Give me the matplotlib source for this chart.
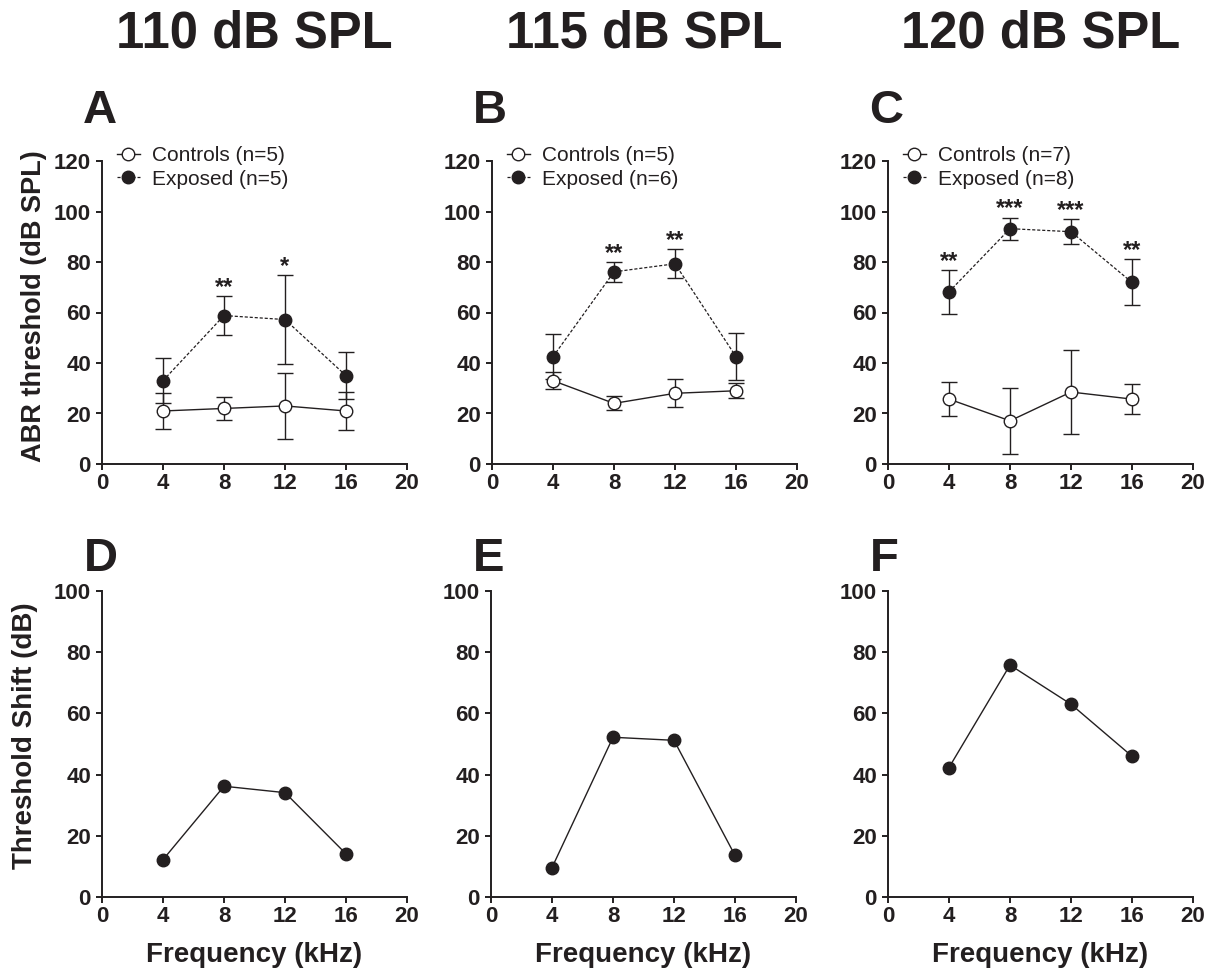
import matplotlib
matplotlib.use("Agg")
import matplotlib.pyplot as plt

plt.rcParams['font.family'] = ['Liberation Sans', 'DejaVu Sans']

K = '#231f20'

freqs = [4, 8, 12, 16]
titles = ['110 dB SPL', '115 dB SPL', '120 dB SPL']
top_letters = ['A', 'B', 'C']
bot_letters = ['D', 'E', 'F']

ctrl_labels = ['Controls (n=5)', 'Controls (n=5)', 'Controls (n=7)']
exp_labels = ['Exposed (n=5)', 'Exposed (n=6)', 'Exposed (n=8)']

ctrl_110 = [21, 22, 23, 21]
ctrl_110_err = [7.3, 4.4, 13.1, 7.4]
exp_110 = [33, 58.8, 57.2, 35]
exp_110_err = [9.0, 7.6, 17.5, 9.3]
stars_110 = ['', '**', '*', '']

ctrl_115 = [33, 24, 28, 29]
ctrl_115_err = [3.4, 2.8, 5.5, 2.9]
exp_115 = [42.5, 76.1, 79.3, 42.5]
exp_115_err = [9.0, 4.0, 5.8, 9.3]
stars_115 = ['', '**', '**', '']

ctrl_120 = [25.7, 17.1, 28.5, 25.7]
ctrl_120_err = [6.7, 13.0, 16.7, 5.8]
exp_120 = [68.2, 93.2, 92.0, 71.9]
exp_120_err = [8.7, 4.4, 4.9, 9.1]
stars_120 = ['**', '***', '***', '**']

shift_110 = [12.2, 36.2, 34.1, 14.1]
shift_115 = [9.6, 52.2, 51.2, 13.6]
shift_120 = [42.3, 75.8, 63.0, 46.0]

ctrl_all = [ctrl_110, ctrl_115, ctrl_120]
ctrl_err_all = [ctrl_110_err, ctrl_115_err, ctrl_120_err]
exp_all = [exp_110, exp_115, exp_120]
exp_err_all = [exp_110_err, exp_115_err, exp_120_err]
stars_all = [stars_110, stars_115, stars_120]
shift_all = [shift_110, shift_115, shift_120]

W, H = 1213, 974
fig = plt.figure(figsize=(W / 100, H / 100), dpi=100)

top_x = [102, 492, 888]
bot_x = [102, 491, 888]
axw = 305


def frac_rect(x0, x1, ytop, ybot):
    return [x0 / W, 1 - ybot / H, (x1 - x0) / W, (ybot - ytop) / H]


def style_axes(ax, ymax, ystep):
    for s in ['top', 'right']:
        ax.spines[s].set_visible(False)
    for s in ['left', 'bottom']:
        ax.spines[s].set_linewidth(1.4)
        ax.spines[s].set_color(K)
    ax.set_xlim(0, 20)
    ax.set_ylim(0, ymax)
    ax.set_xticks([0, 4, 8, 12, 16, 20])
    ax.set_yticks(list(range(0, ymax + 1, ystep)))
    ax.tick_params(axis='both', direction='out', length=4, width=1.4, color=K,
                   labelsize=16, labelcolor=K)
    ax.tick_params(axis='x', pad=2.5)
    ax.tick_params(axis='y', pad=4)
    for lab in ax.get_xticklabels() + ax.get_yticklabels():
        lab.set_fontweight('bold')


ms = 9
for i in range(3):
    ax = fig.add_axes(frac_rect(top_x[i], top_x[i] + axw, 161, 464))
    style_axes(ax, 120, 20)
    ax.errorbar(freqs, exp_all[i], yerr=exp_err_all[i], fmt='none', ecolor=K,
                elinewidth=1.0, capsize=6, capthick=1.0, zorder=2, clip_on=False)
    ax.errorbar(freqs, ctrl_all[i], yerr=ctrl_err_all[i], fmt='none', ecolor=K,
                elinewidth=1.0, capsize=6, capthick=1.0, zorder=2, clip_on=False)
    ax.plot(freqs, ctrl_all[i], '-', color=K, lw=1.0, marker='o', ms=ms,
            mfc='white', mec=K, mew=1.0, label=ctrl_labels[i], zorder=4, clip_on=False)
    ax.plot(freqs, exp_all[i], color=K, lw=0.9, ls=(0, (2.5, 1.5)), marker='o', ms=ms,
            mfc=K, mec=K, mew=1.0, label=exp_labels[i], zorder=3, clip_on=False)
    for f, v, e, s in zip(freqs, exp_all[i], exp_err_all[i], stars_all[i]):
        if s:
            ax.annotate(s, xy=(f, v + e), xytext=(0, 1.5), textcoords='offset points',
                        ha='center', va='baseline', fontsize=17, fontweight='bold', color=K)
    leg = ax.legend(loc='upper left', bbox_to_anchor=(0.048, 1.048), frameon=False,
                    fontsize=15, handlelength=1.1, handletextpad=0.6, labelspacing=0.2,
                    borderpad=0, borderaxespad=0, numpoints=1)
    for t in leg.get_texts():
        t.set_color(K)
    cx = (top_x[i] + top_x[i] + axw) / 2
    fig.text(cx / W, 1 - 48 / H, titles[i], ha='center', va='baseline',
             fontsize=36.5, fontweight='bold', color=K)
    fig.text((top_x[i] - 19) / W, 1 - 123 / H, top_letters[i], ha='left', va='baseline',
             fontsize=34, fontweight='bold', color=K)

    axb = fig.add_axes(frac_rect(bot_x[i], bot_x[i] + axw, 591, 897))
    style_axes(axb, 100, 20)
    axb.plot(freqs, shift_all[i], '-', color=K, lw=1.0, marker='o', ms=ms,
             mfc=K, mec=K, mew=1.0, clip_on=False)
    fig.text((bot_x[i] - 18) / W, 1 - 571 / H, bot_letters[i], ha='left', va='baseline',
             fontsize=34, fontweight='bold', color=K)
    fig.text((bot_x[i] + axw / 2) / W, 1 - 962 / H, 'Frequency (kHz)', ha='center',
             va='baseline', fontsize=20, fontweight='bold', color=K)

fig.text(34 / W, 1 - 306 / H, 'ABR threshold (dB SPL)', rotation=90, ha='center',
         va='center', fontsize=19.5, fontweight='bold', color=K)
fig.text(25 / W, 1 - 736 / H, 'Threshold Shift (dB)', rotation=90, ha='center',
         va='center', fontsize=20, fontweight='bold', color=K)

fig.savefig('out.png', dpi=100)
